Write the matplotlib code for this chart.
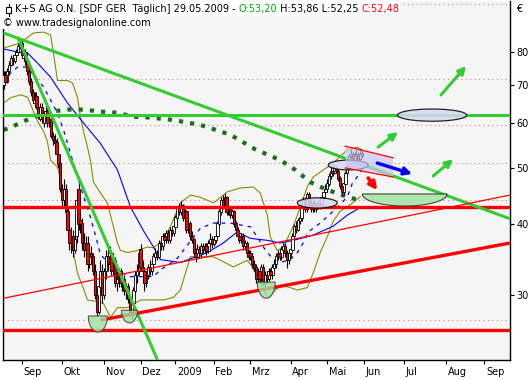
import numpy as np
import matplotlib
matplotlib.use('Agg')
import matplotlib.pyplot as plt
from matplotlib.patches import Polygon, Rectangle
from matplotlib.lines import Line2D
import matplotlib.transforms as mtransforms

# x axis = trading-day index: 0 = 18.08.2008, 196 = 29.05.2009 (last bar)
opens = [70, 73, 71, 74, 76, 78, 77, 79, 80, 82,
         83, 78, 80, 77, 74, 71, 68, 65, 67, 64, 61, 64, 60, 62, 63, 60, 61, 57, 56, 55.5, 53, 51,
         46, 44, 46, 42, 39, 37, 38, 36, 38, 46, 40.5, 40, 37, 36, 37, 34, 35.5, 35, 33, 30, 28, 31, 33,
         30, 33, 35, 34, 35.5, 33, 34.5, 31.5, 32, 33, 31.5, 32, 30.5, 31, 29.5, 28, 29, 30.5, 32.5, 33,
         36, 33.5, 33, 31.5, 32.5, 33.5, 33, 34, 35, 35.5, 35, 37, 36.5, 38, 37.5, 38.5, 37.5, 39, 38.5,
         39.5, 41, 42.5, 42, 43, 41, 42, 39, 40, 38, 37.5, 35.5, 35, 36, 35.5, 36.5, 36, 36.5, 35.8, 37, 37.5,
         36.8, 37.5, 38, 40, 42, 44, 43, 44.5, 42, 42.5, 41.5, 42, 40, 39, 38, 37.5, 38, 36.5, 37, 35.5,
         35.5, 35, 34, 33.5, 32, 33, 32, 33.5, 31.5, 32.5, 32, 33, 32.5, 33.5, 34, 35, 35.5, 35, 36, 36.5, 35.5, 34.5,
         35.5, 36, 38, 39.5, 39, 40.5, 41, 43, 44, 42.5, 45, 43.5, 42.5, 43.5, 42.5, 43, 43.5, 43, 44.5, 45.5,
         46, 47, 48.5, 49.5, 49, 50, 49.5, 48, 46.5, 45.5, 47, 49, 50.5, 52.5, 53, 51.5, 53, 52.5, 52, 53.2]
highs = [74, 74, 75, 77, 79, 79, 80, 81, 83, 84,
         84, 81, 81, 77.5, 75, 72, 69, 68, 68, 65, 65, 65, 63, 64.5, 64, 62, 62, 58, 57.5, 56.5, 54, 51.5,
         47, 48, 47, 43, 40, 39.5, 39, 39, 46, 47, 42, 41, 38.5, 38, 38, 36.5, 36.5, 35.5, 34, 31, 32, 34.5, 34,
         33.5, 36, 36.3, 36.5, 36, 35.5, 35, 33, 33.5, 33.5, 33, 32.5, 31.5, 31.5, 30, 29.5, 31, 33, 34, 36,
         36.8, 34.5, 33.5, 33, 34, 34.5, 34.5, 35.5, 36.2, 36, 37.5, 37.5, 38.5, 38.5, 39, 39, 39.5, 39.5, 40,
         41.5, 43, 43.5, 43.8, 43.3, 42.5, 42.3, 40.5, 40.5, 38.8, 37.8, 36.2, 36.8, 36.5, 37, 37, 37, 37, 37.5, 38.5, 38,
         38, 38.5, 40.5, 42.5, 44.5, 45, 45.3, 44.8, 43, 43, 42.5, 42.3, 40.5, 39.5, 38.5, 38.5, 38.5, 37.5, 37.3, 36,
         36, 35.5, 34.5, 34, 33.5, 33.5, 34, 34, 33, 33, 33.5, 33.5, 34, 34.5, 35.5, 36, 36, 36.5, 37, 37, 36, 36,
         36.5, 38.5, 40, 40.5, 41, 41.8, 43.5, 44.5, 44.5, 45.5, 45.5, 44, 44, 44, 43.5, 44, 44, 45, 46, 47,
         48, 49, 50.5, 50.5, 51, 50.5, 50, 48.5, 47, 47.5, 49.5, 51, 53, 54, 53.5, 53.5, 54, 53.5, 54, 53.86]
lows = [69, 70, 70.5, 73, 75.5, 76, 76.5, 78, 79.5, 81,
        78, 77, 76, 73, 70, 67, 65, 64, 63.5, 61, 60.5, 60, 59, 61, 59, 59, 56.5, 55, 54, 52.5, 50, 45.5,
        43, 43, 41, 38, 36, 35.5, 35, 35.5, 37, 39, 38.5, 36, 35, 35, 33, 33.5, 34, 32.5, 29.5, 27.5, 27.8, 30, 29,
        29.5, 32, 33, 33, 32.5, 32.5, 31, 30.5, 31, 31, 30.5, 30, 29.5, 29, 27.5, 27.2, 28.5, 30, 31.5, 32.5,
        33, 31.5, 30.5, 31, 32, 32.5, 32.5, 33.5, 34.5, 34.5, 34.8, 36, 36, 36.8, 37, 37, 37, 38, 38,
        39, 40.5, 41.5, 41.5, 40.5, 40.5, 38.5, 38.5, 37.5, 37, 35, 34.2, 34.8, 35, 35, 35.5, 35.5, 35.3, 35.5, 36.5, 36.3,
        36.5, 37, 37.8, 39.5, 41.5, 42.5, 42.8, 41.5, 41.5, 41, 41, 39.5, 38.5, 37.5, 37, 37, 36, 36, 35.2, 34.5,
        34.5, 33.5, 33, 31.5, 31.5, 31.5, 31.8, 31.2, 31, 31.5, 31.8, 32, 32, 33, 33.5, 34.5, 34.5, 34.5, 35.5, 35, 33.5, 34,
        35, 35.8, 37.5, 38.5, 38.8, 40, 40.5, 42.5, 42, 42, 43, 42, 42, 42, 42, 42.5, 42.5, 42.8, 44, 45,
        45.5, 46.5, 48, 48.5, 48.8, 49, 47.5, 46, 45, 45, 46.8, 48.5, 50, 52, 51, 51, 52, 51.5, 51.5, 52.25]
closes = [73, 71, 74, 76, 78, 77, 79, 80, 82, 83,
          79, 80, 77, 74, 71, 68, 66, 67, 64, 62, 64, 61, 62, 63, 60, 61, 57, 56, 55.5, 53, 51, 46,
          44, 46, 42, 39, 37, 38, 36, 37.5, 44, 40, 40, 37, 36, 37, 34, 35.5, 35, 33, 30, 28, 31, 33, 30,
          33, 35, 34, 35.5, 33, 34.5, 31.5, 32, 33, 31.5, 32, 30.5, 31, 29.5, 28, 29, 30.5, 32.5, 33, 35.5,
          33.5, 33, 31.5, 32.5, 33.5, 33, 34, 35, 35.5, 35, 37, 36.5, 38, 37.5, 38.5, 37.5, 39, 38.5, 39.5,
          41, 42.5, 42, 43, 41, 42, 39, 40, 38, 37.5, 35.5, 35, 36, 35.5, 36.5, 36, 36.5, 35.8, 37, 37.5, 36.8,
          37.5, 38, 40, 42, 44, 43, 44.5, 42, 42.5, 41.5, 42, 40, 39, 38, 37.5, 38, 36.5, 37, 35.5, 35,
          35, 34, 33.5, 32, 33, 32, 33.5, 31.5, 32.5, 32, 33, 32.5, 33.5, 34, 35, 35.5, 35, 36, 36.5, 35.5, 34.5, 35.5,
          36, 38, 39.5, 39, 40.5, 41, 43, 44, 42.5, 45, 43.5, 42.5, 43.5, 42.5, 43, 43.5, 43, 44.5, 45.5, 46,
          47, 48.5, 49.5, 49, 50, 49.5, 48, 46.5, 45.5, 47, 49, 50.5, 52.5, 53, 51.5, 53, 52.5, 52, 53, 52.48]

# indicator lines (day index, price)
ma_long_x = [0, 7.7, 13.1, 18.6, 25.7, 35, 43.7, 53, 62.3, 69.4, 76.5, 82, 85.8, 96.7, 111.5, 120.2,
             127.9, 135, 144.3, 151.4, 158.5, 169.4, 180.3, 188, 195.6]
ma_long_y = [81.0, 80.0, 79.7, 76.5, 72.3, 65.1, 60.1, 55.3, 49.7, 42.8, 38.9, 36.4, 34.6, 34.2, 35.6, 37.0,
             38.7, 37.7, 37.4, 37.0, 37.4, 38.2, 39.6, 41.4, 42.8]
ma_short_x = [2.7, 7.7, 13.1, 16.4, 21.9, 25.7, 29.5, 32.8, 35, 42.1, 47.5, 51.4, 53, 58.5, 63.9, 69.4,
              74.9, 82, 85.8, 91.3, 95.1, 107.7, 114.8, 124, 135, 138.8, 142.1, 147.5, 151.4, 156.8,
              160.7, 163.9, 166.7, 173.2, 177.6, 185.2, 188.5, 190.7, 194, 196.2]
ma_short_y = [72.9, 75.3, 75.3, 72.9, 69.5, 65.9, 62.5, 58.4, 55.3, 46.4, 41.1, 37.0, 35.3, 33.9, 32.9, 32.3,
              32.3, 32.3, 33.2, 34.1, 34.8, 39.3, 40.1, 40.1, 39.5, 37.9, 36.4, 34.6, 34.2, 34.6,
              35.6, 37.0, 38.7, 40.1, 41.3, 43.5, 45.0, 47.0, 48.6, 50.0]
band_up_x = [0, 9.3, 16.4, 21.9, 25.7, 27.3, 29.5, 35, 37.7, 40.4, 42.1, 43.7, 45.9, 47.5, 49.2, 53, 56.8,
             58.5, 62.3, 63.9, 67.8, 73.2, 78.7, 82, 87.4, 91.3, 95.1, 96.7, 102.2, 107.7, 114.8, 122.4,
             129.5, 136.6, 140.4, 144.3, 145.9, 149.7, 153, 158.5, 162.3, 166.1, 169.4, 174.9, 180.3,
             188, 193.4, 196.2]
band_up_y = [81.3, 83.0, 86.4, 86.7, 85.7, 79.7, 71.3, 71.3, 70.6, 66.7, 61.6, 58.1, 54.5, 51.7, 47.3, 45.3,
             43.5, 41.4, 37.0, 35.9, 35.6, 35.9, 36.4, 36.3, 37.4, 39.6, 42.3, 43.5, 44.9, 44.5, 43.5, 45.5,
             46.2, 46.4, 45.3, 41.4, 37.9, 35.9, 36.4, 39.6, 42.8, 46.4, 48.3, 49.7, 51.1,
             53.9, 54.5, 53.9]
band_lo_x = [0, 3.8, 9.3, 13.1, 18.6, 21.9, 24, 25.7, 29.5, 32.8, 36.6, 38.3, 40.4, 43.7, 45.9, 51.4, 54.6,
             58.5, 62.3, 67.8, 74.9, 87.4, 92.9, 96.7, 102.2, 114.8, 125.7, 133.3, 136, 140.4, 144.3,
             147.5, 151.4, 156.8, 160.7, 166.1, 169.4, 173.2, 177, 180.3, 184.2, 188, 195.1]
band_lo_y = [65.1, 66.5, 67.3, 66.7, 60.5, 58.1, 55.7, 51.7, 50.3, 45.3, 38.5, 35.6, 32.8, 30.8, 29.4, 29.2, 29.0,
             27.4, 28.5, 28.5, 29.4, 29.4, 29.7, 30.6, 35.0, 35.0, 33.6, 34.5, 33.6, 31.5, 29.7,
             30.3, 31.2, 30.9, 30.6, 30.9, 32.8, 35.6, 37.9, 40.4, 42.1, 42.8, 44.6]
ma200_x = [0, 3.8, 9.3, 16.4, 25.7, 35, 43.7, 53, 62.3, 71, 80.3, 92.9, 107.7, 124, 137.7, 151.4, 159.6,
           167.8, 176, 185.2, 194, 196.2]
ma200_y = [58.4, 59.0, 60.1, 61.6, 62.9, 63.4, 63.4, 62.9, 62.6, 61.6, 61.4, 60.8, 59.6, 57.3, 54.0, 51.7, 49.7,
           47.3, 46.0, 44.9, 44.0, 43.8]

# drawn trend lines / levels (price)
hlines_red = [42.8, 26.0]
hline_green = 62.0
dotted_levels = [97.1, 71.6, 59.5, 51.2, 44.1, 27.1]
trend_green_long = ([0, 277], [86.4, 40.8])
trend_green_steep = ([7.7, 84.2], [85.0, 23.07])
trend_red_thick = ([53, 277], [27.1, 37.0])
trend_red_thin = ([0, 277], [29.6, 44.9])

month_ticks = [10, 32, 55, 75, 94, 115, 135, 157, 177, 197, 219, 242, 263]
month_labels = ['Sep', 'Okt', 'Nov', 'Dez', '2009', 'Feb', 'Mrz', 'Apr', 'Mai', 'Jun', 'Jul', 'Aug', 'Sep']
price_ticks = [30, 40, 50, 60, 70, 80]

W, H = 532, 380
fig = plt.figure(figsize=(W / 100, H / 100), dpi=100)
fig.patch.set_facecolor('white')
ax = fig.add_axes([3 / W, 20 / H, 507 / W, 359 / H])
ax.set_facecolor('#f5f5f5')
ax.set_yscale('log')
ax.set_xlim(-0.3, 277)
ax.set_ylim(23.07, 98.3)

FS = 7.0
ax.yaxis.tick_right()
ax.set_yticks(price_ticks)
ax.set_yticklabels([str(p) for p in price_ticks])
ax.yaxis.set_minor_locator(matplotlib.ticker.NullLocator())
ax.tick_params(axis='y', which='major', direction='out', length=3, width=0.8, pad=1.5, labelsize=FS, colors='black')
ax.set_xticks(month_ticks)
ax.set_xticklabels(month_labels)
ax.tick_params(axis='x', direction='out', length=3, width=0.8, pad=2, labelsize=FS)
offset = mtransforms.ScaledTranslation(1.5 / 100, 0, fig.dpi_scale_trans)
for lab in ax.get_xticklabels():
    lab.set_horizontalalignment('left')
    lab.set_transform(lab.get_transform() + offset)
for s in ['left', 'right', 'bottom']:
    ax.spines[s].set_linewidth(1.0)
ax.spines['top'].set_visible(False)

# dotted levels
for lv in dotted_levels:
    ax.axhline(lv, color='#e08080', lw=0.8, ls=(0, (1, 3)), zorder=1)

# indicator lines
ax.plot(band_up_x, band_up_y, color='#8b8b00', lw=0.8, zorder=2)
ax.plot(band_lo_x, band_lo_y, color='#8b8b00', lw=0.8, zorder=2)
ax.plot(ma_long_x, ma_long_y, color='#0000ff', lw=0.8, zorder=2)
ax.plot(ma_short_x, ma_short_y, color='#0000ff', lw=0.9, ls=(0, (3, 4)), zorder=2)
ax.plot(ma200_x, ma200_y, color='#1a6e1a', lw=3.0, ls=(0, (1.0, 1.7)), zorder=2)

# candles
idx = np.arange(len(closes))
o = np.array(opens); c = np.array(closes); h = np.array(highs); l = np.array(lows)
ax.vlines(idx, l, h, color='black', lw=0.8, zorder=3)
up = c >= o
bw = 1.3
ax.bar(idx[up], (c - o)[up] + 0.05, bottom=o[up], width=bw, color='white', edgecolor='black', linewidth=0.6, zorder=4)
ax.bar(idx[~up], (o - c)[~up] + 0.05, bottom=c[~up], width=bw, color='#ff0000', edgecolor='black', linewidth=0.6, zorder=4)

# trend lines and levels
for lv in hlines_red:
    ax.axhline(lv, color='#ff0000', lw=2.4, zorder=5)
ax.axhline(hline_green, color='#33cc33', lw=2.2, zorder=5)
ax.plot(*trend_green_long, color='#33cc33', lw=2.2, zorder=5, solid_capstyle='butt')
ax.plot(*trend_green_steep, color='#33cc33', lw=2.2, zorder=5, solid_capstyle='butt')
ax.plot(*trend_red_thick, color='#ff0000', lw=2.4, zorder=5, solid_capstyle='butt')
ax.plot(*trend_red_thin, color='#ff0000', lw=0.9, zorder=5)


def bowl(cx, hw, top, bot, fc='#9fe09f', alpha=0.8):
    t = np.linspace(0, np.pi, 60)
    xs = cx + hw * np.cos(t)
    ly = np.log(top) - (np.log(top) - np.log(bot)) * np.sin(t)
    pts = np.column_stack([xs, np.exp(ly)])
    ax.add_patch(Polygon(pts, closed=True, facecolor=fc, edgecolor='#333333', lw=0.8, alpha=alpha, zorder=6))


def ellipse(cx, hw, top, bot, fc='#d8d8f4'):
    t = np.linspace(0, 2 * np.pi, 90)
    lc = (np.log(top) + np.log(bot)) / 2
    lr = (np.log(top) - np.log(bot)) / 2
    pts = np.column_stack([cx + hw * np.cos(t), np.exp(lc + lr * np.sin(t))])
    ax.add_patch(Polygon(pts, closed=True, facecolor=fc, edgecolor='black', lw=0.9, alpha=0.85, zorder=6))


bowl(51.6, 5.2, 27.56, 25.83)
bowl(68.9, 4.4, 28.2, 26.8)
bowl(143.7, 4.9, 31.6, 29.6)
bowl(219.4, 23.2, 45.1, 42.96, fc='#a8e4a8', alpha=0.9)

ellipse(171.6, 10.9, 44.4, 42.6)
ellipse(188.5, 10.9, 51.7, 49.7)
ellipse(234.4, 18.9, 63.55, 60.5)

# channel
ch_x = [186.9, 213.1, 213.1, 186.9]
ch_y = [54.7, 52.2, 48.3, 50.1]
ax.add_patch(Polygon(np.column_stack([ch_x, ch_y]), closed=True, facecolor='#c8c8f0', edgecolor='none', alpha=0.7, zorder=6))
ax.plot([186.9, 213.1], [54.7, 52.2], color='#ff0000', lw=0.9, zorder=7)
ax.plot([186.9, 213.1], [50.1, 48.3], color='#ff0000', lw=0.9, zorder=7)


def arrow(x0, y0, x1, y1, col, lw=2.2):
    ax.annotate('', xy=(x1, y1), xytext=(x0, y0),
                arrowprops=dict(arrowstyle='-|>', color=col, lw=lw, mutation_scale=11, shrinkA=0, shrinkB=0), zorder=8)


arrow(204.4, 51.1, 223.5, 48.9, '#0000ff', 2.4)
arrow(199.5, 48.1, 204.4, 45.8, '#ff0000', 2.6)
arrow(204.9, 54.5, 215.8, 57.9, '#33cc33')
arrow(235.0, 48.5, 245.9, 51.9, '#33cc33')
arrow(239.3, 67.3, 253.0, 75.6, '#33cc33')

# header
fig.patches.append(Rectangle((0, 1 - 16 / H), 400 / W, 16 / H, transform=fig.transFigure,
                             facecolor='white', edgecolor='none', zorder=1))
fig.patches.append(Rectangle((0, 1 - 29 / H), 147 / W, 13 / H, transform=fig.transFigure,
                             facecolor='white', edgecolor='none', zorder=1))
# candle icon
fig.add_artist(Line2D([8.5 / W, 8.5 / W], [1 - 4 / H, 1 - 16 / H], transform=fig.transFigure, color='black', lw=0.8, zorder=4))
fig.patches.append(Rectangle((6 / W, 1 - 13 / H), 5 / W, 6 / H, transform=fig.transFigure,
                             facecolor='white', edgecolor='black', lw=0.8, zorder=5))

renderer = fig.canvas.get_renderer()
chunks = [('K+S AG O.N. [SDF GER  Täglich] 29.05.2009 - ', 'black'), ('O:53,20', '#00aa00'),
          (' H:53,86 L:52,25 ', 'black'), ('C:52,48', '#ff0000')]
xpos = 15
for txt, col in chunks:
    t = fig.text(xpos / W, 1 - 9 / H, txt, color=col, fontsize=FS, va='center', ha='left', zorder=6)
    xpos += t.get_window_extent(renderer).width
fig.text(3 / W, 1 - 22.5 / H, '© www.tradesignalonline.com', fontsize=FS, va='center', ha='left', zorder=6)
fig.text(516 / W, 1 - 9 / H, '€', fontsize=FS, va='center', ha='left')

fig.savefig('out.png', dpi=100)
